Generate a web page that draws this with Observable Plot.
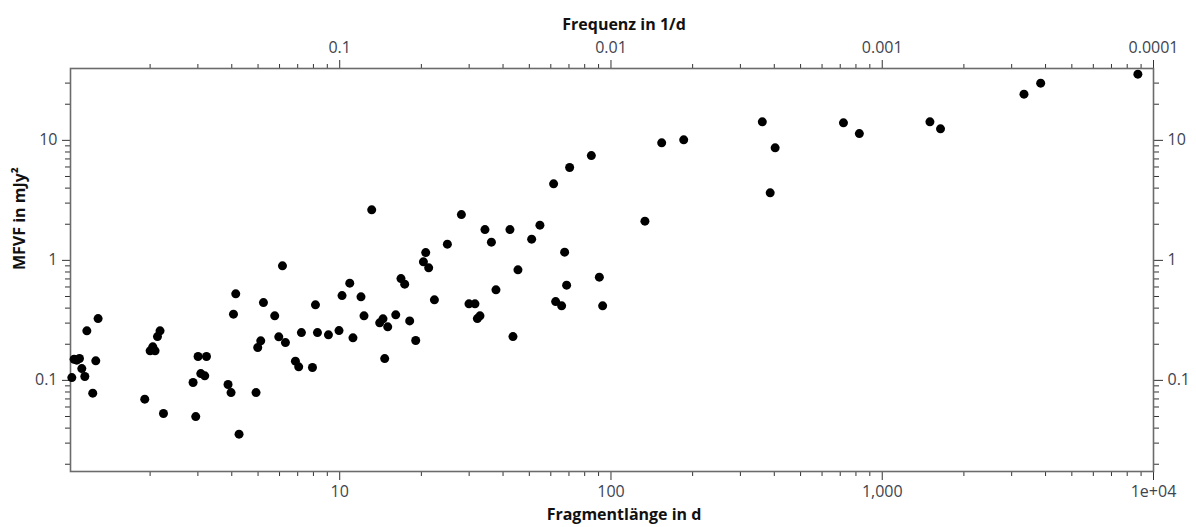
<!DOCTYPE html>
<html>
<head>
<meta charset="utf-8">
<script src="https://cdn.jsdelivr.net/npm/d3@7"></script>
<script src="https://cdn.jsdelivr.net/npm/@observablehq/plot@0.6"></script>
<style>
  html, body { margin: 0; padding: 0; background: #fff; }
  svg { display: block; }
</style>
</head>
<body>
<div id="chart"></div>
<script>
// Fragment length in days (x) and MFVF in mJy^2 (y)
const fragmentLength = [
  1.029, 1.049, 1.073, 1.098, 1.120, 1.149, 1.169, 1.229, 1.261, 1.286,
  1.911, 2.000, 2.086, 2.046, 2.129, 2.176, 2.240, 2.880, 2.946, 3.005,
  3.227, 3.075, 3.180, 3.876, 3.976, 4.255, 4.915, 4.987, 5.115, 5.234,
  4.058, 4.137, 5.760, 5.961, 6.151, 6.308, 7.225, 8.278, 9.087, 9.94,
  8.139, 10.20, 10.89, 11.98, 12.29, 11.19, 6.866, 7.06, 7.934, 14.04,
  14.44, 15.03, 16.09, 18.11, 19.06, 14.65, 16.82, 17.36, 20.35, 21.28,
  20.75, 22.34, 61.45, 28.09, 34.31, 42.42, 54.71, 36.24, 51.00, 24.94,
  67.48, 45.40, 90.6, 68.63, 37.67, 29.96, 31.52, 62.52, 65.78, 93.17,
  32.17, 32.89, 43.52, 70.4, 84.65, 133.4, 153.8, 185.4, 361.3, 402.9,
  386.3, 719.5, 823.5, 1499, 1640, 3331, 3838, 8757, 13.12
];
const mfvf = [
  0.1055, 0.150, 0.1474, 0.152, 0.1254, 0.1076, 0.2585, 0.0782, 0.1454, 0.3273,
  0.0697, 0.1761, 0.1761, 0.1902, 0.2317, 0.2585, 0.0529, 0.0959, 0.0499, 0.1579,
  0.1579, 0.1139, 0.1090, 0.0923, 0.0791, 0.0356, 0.0791, 0.1877, 0.2134, 0.4447,
  0.3561, 0.5257, 0.3447, 0.2304, 0.8999, 0.2065, 0.2502, 0.2502, 0.2394, 0.260,
  0.4257, 0.5089, 0.6457, 0.4964, 0.3447, 0.2260, 0.1445, 0.1296, 0.1279, 0.3014,
  0.3255, 0.2792, 0.3514, 0.3131, 0.2147, 0.1519, 0.7052, 0.6336, 0.9716, 0.866,
  1.161, 0.4687, 4.341, 2.408, 1.805, 1.805, 1.965, 1.418, 1.502, 1.365,
  1.170, 0.8333, 0.7244, 0.6215, 0.5678, 0.4341, 0.4341, 0.4536, 0.4176, 0.4176,
  0.3273, 0.3447, 0.2317, 5.934, 7.469, 2.122, 9.532, 10.10, 14.26, 8.66,
  3.652, 13.99, 11.39, 14.26, 12.47, 24.27, 29.98, 35.62, 2.635
];

// Tick values
const xMajor = [10, 100, 1000, 10000];
const xMajorLabels = ["10", "100", "1,000", "1e+04"];
const xTopLabels = ["0.1", "0.01", "0.001", "0.0001"];
const xMinorMult = [2, 3, 4, 5, 6, 7, 8, 9];
const xDecades = [1, 10, 100, 1000];
const yMajor = [0.1, 1, 10];
const yMajorLabels = ["0.1", "1", "10"];
const yDecades = [0.01, 0.1, 1, 10];
const yMinorMult = [2, 3, 4, 5, 6, 7, 8, 9];

const xMinor = xDecades.flatMap(d => xMinorMult.map(m => +(d * m).toPrecision(6)));
const yMinor = yDecades.flatMap(d => yMinorMult.map(m => +(d * m).toPrecision(6))).filter(v => v < 39.7);

const data = fragmentLength.map((x, i) => ({x, y: mfvf[i]}));

const tickColor = "#333333";
const labelColor = "#3d4450";
const font = "'Open Sans', 'DejaVu Sans', sans-serif";
const tickFont = 16;

const chart = Plot.plot({
  width: 1196,
  height: 527,
  marginTop: 68,
  marginBottom: 56,
  marginLeft: 70,
  marginRight: 43,
  style: {fontFamily: font, fontSize: "16px", color: labelColor, background: "#fff"},
  x: {type: "log", domain: [1.0175, 10000]},
  y: {type: "log", domain: [0.0174, 39.7]},
  marks: [
    // bottom axis
    Plot.axisX({anchor: "bottom", ticks: xMinor, tickSize: 5, tickFormat: () => "", stroke: tickColor, label: null}),
    Plot.axisX({anchor: "bottom", ticks: xMajor, tickSize: 9, tickPadding: 5, fontSize: tickFont,
      tickFormat: d => xMajorLabels[xMajor.indexOf(d)], stroke: tickColor, fill: labelColor, label: null}),
    // top axis (frequency = 1/length)
    Plot.axisX({anchor: "top", ticks: xMinor, tickSize: 5, tickFormat: () => "", stroke: tickColor, label: null}),
    Plot.axisX({anchor: "top", ticks: xMajor, tickSize: 9, tickPadding: 7, fontSize: tickFont,
      tickFormat: d => xTopLabels[xMajor.indexOf(d)], stroke: tickColor, fill: labelColor, label: null}),
    // left axis
    Plot.axisY({anchor: "left", ticks: yMinor, tickSize: 5, tickFormat: () => "", stroke: tickColor, label: null}),
    Plot.axisY({anchor: "left", ticks: yMajor, tickSize: 8, tickPadding: 5, fontSize: tickFont,
      tickFormat: d => yMajorLabels[yMajor.indexOf(d)], stroke: tickColor, fill: labelColor, label: null}),
    // right axis
    Plot.axisY({anchor: "right", ticks: yMinor, tickSize: 5, tickFormat: () => "", stroke: tickColor, label: null}),
    Plot.axisY({anchor: "right", ticks: yMajor, tickSize: 9, tickPadding: 5, fontSize: tickFont,
      tickFormat: d => yMajorLabels[yMajor.indexOf(d)], stroke: tickColor, fill: labelColor, label: null}),
    Plot.frame({stroke: "#6b6b6b", strokeWidth: 1.6}),
    Plot.dot(data, {x: "x", y: "y", r: 4.5, fill: "black", stroke: "none"}),
    // titles
    Plot.text(["Frequenz in 1/d"], {frameAnchor: "top", dy: -50, dx: 12, fontWeight: "bold", fontSize: 16, fill: "#111"}),
    Plot.text(["Fragmentlänge in d"], {frameAnchor: "bottom", dy: 48, dx: 12, fontWeight: "bold", fontSize: 16, fill: "#111"}),
    Plot.text(["MFVF in mJy²"], {frameAnchor: "left", dx: -51, rotate: -90, fontWeight: "bold", fontSize: 16, fill: "#111"})
  ]
});
document.getElementById("chart").appendChild(chart);
</script>
</body>
</html>
